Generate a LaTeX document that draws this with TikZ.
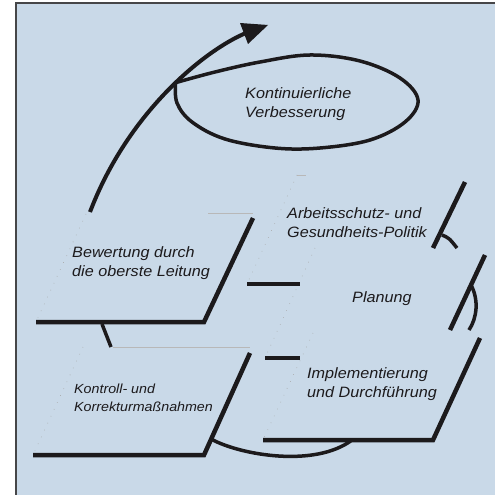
\documentclass[tikz,border=0pt]{standalone}
\usepackage{fontspec}
\newfontfamily\labfont{Liberation Sans}[FakeStretch=1.08]
\definecolor{sheetbg}{RGB}{201,217,232}
\definecolor{framegray}{RGB}{70,70,72}
\definecolor{ink}{RGB}{28,26,28}

\begin{document}
\begin{tikzpicture}[x=1pt,y=-1pt,
  lab/.style={font=\labfont\itshape\fontsize{15}{19}\selectfont, align=left, inner sep=0pt, anchor=base west, text=ink},
  smalllab/.style={lab, font=\labfont\itshape\fontsize{13.2}{18}\selectfont},
  rim/.style={draw=ink, line width=4.5pt, line join=miter},
  link/.style={draw=ink, line width=3.5pt},
  faint/.style={draw=black!28, line width=0.5pt},
  faintdots/.style={draw=black!35, line width=0.6pt, dash pattern=on 0.6pt off 7pt},
]
\useasboundingbox (0,0) rectangle (495,495);
\fill[sheetbg] (16,3) rectangle (495,495);
\draw[framegray, line width=1.3pt] (16,495) -- (16,3) -- (495,3);

% corner points of the sheets
\coordinate (bewBL) at (36,322);  \coordinate (bewBR) at (204,322);
\coordinate (bewTR) at (253,218); \coordinate (bewTL) at (86,214);
\coordinate (konBL) at (33,455);  \coordinate (konBR) at (204,455);
\coordinate (konTR) at (250,353); \coordinate (konTL) at (83,347);
\coordinate (polTR) at (465,182); \coordinate (polRB) at (433,248);
\coordinate (polTL) at (297,175); \coordinate (polBL) at (247,284);
\coordinate (polBM) at (300,284);
\coordinate (plaTR) at (485,255); \coordinate (plaRB) at (450,330);
\coordinate (plaTL) at (315,248); \coordinate (plaBL) at (265,358);
\coordinate (plaBM) at (300,358);
\coordinate (impBL) at (263,440); \coordinate (impBR) at (433,440);
\coordinate (impTR) at (480,338); \coordinate (impTL) at (313,333);

% faint outlines of the sheets
\draw[faint] (208,213) -- (bewTR |- 0,213);
\draw[faintdots] (bewTL) -- (bewBL);
\draw[faint] (113,347) -- (konTR |- 0,347);
\draw[faintdots] (konTL) -- (konBL);
\draw[faint] (polTL) -- (306,175);
\draw[faintdots] (polTL) -- (polBL);
\draw[faintdots] (plaTL) -- (plaBL);
\draw[faintdots] (impTL) -- (impBL);

% heavy edges of the sheets
\draw[rim] (bewBL) -- (bewBR) -- (bewTR);
\draw[rim] (konBL) -- (konBR) -- (konTR);
\draw[rim] (polTR) -- (polRB);
\draw[rim] (polBL) -- (polBM);
\draw[rim] (plaTR) -- (plaRB);
\draw[rim] (plaBL) -- (plaBM);
\draw[rim] (impBL) -- (impBR) -- (impTR);

% links between the sheets
\coordinate (bewLink) at (102,324);
\coordinate (konLink) at (111,347);
\draw[link] (bewLink) -- (konLink);
\coordinate (polFork) at (442,235);
\coordinate (polArcEnd) at (457,248);
\draw[link] (polFork) .. controls (449,238) .. (polArcEnd);
\coordinate (plaFork) at (471,285);
\coordinate (plaArcEnd) at (469,330);
\draw[link] (plaFork) .. controls (479,300) and (477,318) .. (plaArcEnd);
\coordinate (konFork) at (211,439);
\coordinate (impJoin) at (352,440);
\draw[link] (konFork) .. controls (240,455) and (315,468) .. (impJoin);

% arrow leaving the review sheet, with its head drawn as a filled triangle
\coordinate (bewTop) at (90,212);
\coordinate (headBase) at (246,33);
\coordinate (arrowTip) at (268,25);
\draw[ink, line width=4pt]
  (bewTop) .. controls (128,112) and (205,50) .. (headBase)
  coordinate[pos=0.55] (cross);
\fill[ink] (arrowTip) -- (240,23) -- (248,44) -- cycle;

% improvement loop, springing from the arrow
\draw[ink, line width=3.5pt, line join=round]
  plot[smooth, tension=0.6] coordinates {(cross) (215,72) (260,62) (310,55) (360,61)
   (400,78) (418,100) (405,122) (370,140) (320,148) (275,148) (225,139) (192,122)
   (177,103) (cross)};

% labels
\node[lab] (kvp) at (245,117) {Kontinuierliche\\Verbesserung};
\node[lab] (pol) at (287,237) {Arbeitsschutz- und\\Gesundheits-Politik};
\node[lab] (pla) at (352,302) {Planung};
\node[lab] (bew) at (72,276) {Bewertung durch\\die oberste Leitung};
\node[smalllab] (kon) at (74,411) {Kontroll- und\\Korrekturmaßnahmen};
\node[lab] (imp) at (307,397) {Implementierung\\und Durchführung};
\end{tikzpicture}
\end{document}
